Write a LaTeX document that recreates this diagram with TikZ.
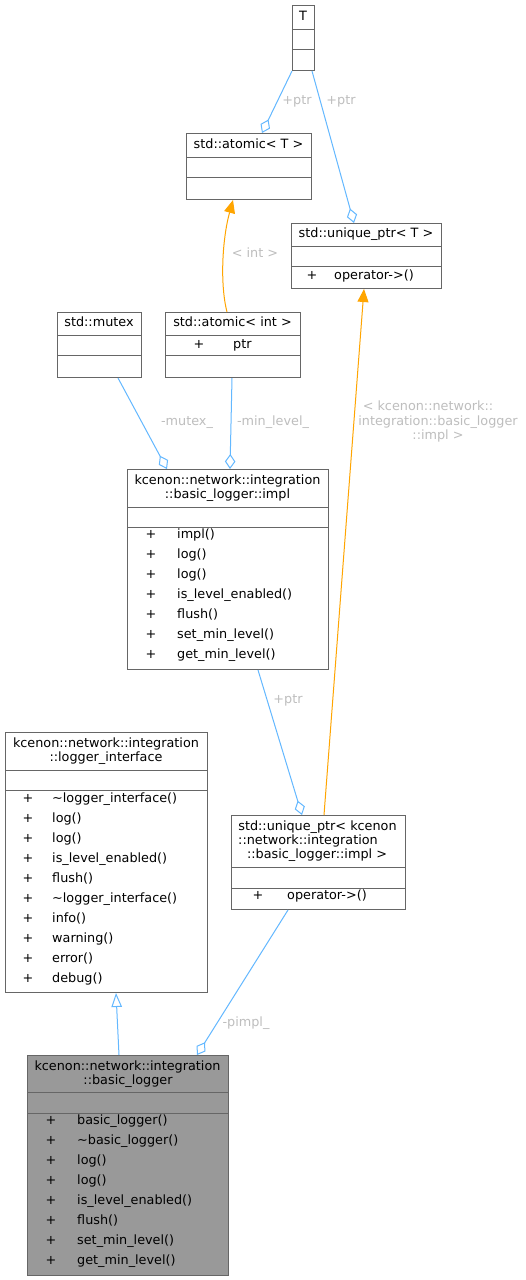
\documentclass[tikz,border=0pt]{standalone}
\usepackage{fontspec}
\setmainfont{DejaVu Sans}
\usetikzlibrary{arrows.meta,calc}
\definecolor{boxgray}{HTML}{666666}
\definecolor{mainfill}{HTML}{999999}
\definecolor{edgeblue}{HTML}{63B8FF}
\definecolor{edgeorange}{HTML}{FFA500}
\definecolor{lblgray}{HTML}{BEBEBE}
\begin{document}
\begin{tikzpicture}[x=1pt,y=-1pt,font=\fontsize{12.8}{15}\selectfont,
  cls/.style={draw=boxgray,line width=1pt,fill=white,inner sep=0pt,anchor=north west},
  div/.style={draw=boxgray,line width=1pt},
  txt/.style={inner sep=0pt,text height=9.3pt,text depth=2.7pt},
  lbl/.style={txt,text=lblgray},
  agg/.style={draw=edgeblue,line width=1pt,-{Diamond[open,length=15pt,width=10.5pt]}},
  inst/.style={draw=edgeorange,line width=1pt,-{Triangle[length=13pt,width=11pt]}},
  gen/.style={draw=edgeblue,line width=1pt,-{Triangle[open,length=14pt,width=10.5pt]}}]
 \path[fill=white,use as bounding box] (0,0) rectangle (525,1280);
 % T
 \node[cls,minimum width=22pt,minimum height=65pt] (T) at (292,5) {};
 \draw[div] (T.west |- 0,29) -- (T.east |- 0,29);
 \draw[div] (T.west |- 0,49) -- (T.east |- 0,49);
 \node[txt] (T-h) at (303,17) {T};
 % std::atomic< T >
 \node[cls,minimum width=125pt,minimum height=66pt] (atomT) at (186,133) {};
 \draw[div] (atomT.west |- 0,157) -- (atomT.east |- 0,157);
 \draw[div] (atomT.west |- 0,177) -- (atomT.east |- 0,177);
 \node[txt] (atomT-h) at (248.5,145) {std::atomic< T >};
 % std::unique_ptr< T >
 \node[cls,minimum width=150pt,minimum height=65pt] (uptrT) at (291,223) {};
 \draw[div] (uptrT.west |- 0,246) -- (uptrT.east |- 0,246);
 \draw[div] (uptrT.west |- 0,266) -- (uptrT.east |- 0,266);
 \node[txt] (uptrT-h) at (366,234.5) {std::unique\_ptr< T >};
 \node[txt] (uptrT-p1) at (312,276) {+};
 \node[txt,anchor=west] (uptrT-m1) at (334,276) {operator->()};
 % std::mutex
 \node[cls,minimum width=84pt,minimum height=65pt] (mutex) at (57,312) {};
 \draw[div] (mutex.west |- 0,335) -- (mutex.east |- 0,335);
 \draw[div] (mutex.west |- 0,355) -- (mutex.east |- 0,355);
 \node[txt] (mutex-h) at (99,323.5) {std::mutex};
 % std::atomic< int >
 \node[cls,minimum width=135pt,minimum height=65pt] (atomInt) at (165,312) {};
 \draw[div] (atomInt.west |- 0,335) -- (atomInt.east |- 0,335);
 \draw[div] (atomInt.west |- 0,355) -- (atomInt.east |- 0,355);
 \node[txt] (atomInt-h) at (232.5,323.5) {std::atomic< int >};
 \node[txt] (atomInt-p1) at (199,345) {+};
 \node[txt,anchor=west] (atomInt-a1) at (233,345) {ptr};
 % basic_logger::impl
 \node[cls,minimum width=201pt,minimum height=200pt] (impl) at (127,469) {};
 \draw[div] (impl.west |- 0,507) -- (impl.east |- 0,507);
 \draw[div] (impl.west |- 0,527) -- (impl.east |- 0,527);
 \node[txt] (impl-h1) at (227.5,481) {kcenon::network::integration};
 \node[txt] (impl-h2) at (227.5,495) {::basic\_logger::impl};
 \node[txt] (impl-p1) at (151,535) {+};
 \node[txt] (impl-p2) at (151,555) {+};
 \node[txt] (impl-p3) at (151,575) {+};
 \node[txt] (impl-p4) at (151,595) {+};
 \node[txt] (impl-p5) at (151,615) {+};
 \node[txt] (impl-p6) at (151,635) {+};
 \node[txt] (impl-p7) at (151,655) {+};
 \node[txt,anchor=west] (impl-m1) at (177,535) {impl()};
 \node[txt,anchor=west] (impl-m2) at (177,555) {log()};
 \node[txt,anchor=west] (impl-m3) at (177,575) {log()};
 \node[txt,anchor=west] (impl-m4) at (177,595) {is\_level\_enabled()};
 \node[txt,anchor=west] (impl-m5) at (177,615) {flush()};
 \node[txt,anchor=west] (impl-m6) at (177,635) {set\_min\_level()};
 \node[txt,anchor=west] (impl-m7) at (177,655) {get\_min\_level()};
 % logger_interface
 \node[cls,minimum width=202pt,minimum height=260pt] (iface) at (5,732) {};
 \draw[div] (iface.west |- 0,770) -- (iface.east |- 0,770);
 \draw[div] (iface.west |- 0,790) -- (iface.east |- 0,790);
 \node[txt] (iface-h1) at (106,744) {kcenon::network::integration};
 \node[txt] (iface-h2) at (106,758.5) {::logger\_interface};
 \node[txt] (iface-p1) at (28,799) {+};
 \node[txt] (iface-p2) at (28,819) {+};
 \node[txt] (iface-p3) at (28,839) {+};
 \node[txt] (iface-p4) at (28,859) {+};
 \node[txt] (iface-p5) at (28,879) {+};
 \node[txt] (iface-p6) at (28,899) {+};
 \node[txt] (iface-p7) at (28,919) {+};
 \node[txt] (iface-p8) at (28,939) {+};
 \node[txt] (iface-p9) at (28,959) {+};
 \node[txt] (iface-p10) at (28,979) {+};
 \node[txt,anchor=west] (iface-m1) at (52,799) {\textasciitilde logger\_interface()};
 \node[txt,anchor=west] (iface-m2) at (52,819) {log()};
 \node[txt,anchor=west] (iface-m3) at (52,839) {log()};
 \node[txt,anchor=west] (iface-m4) at (52,859) {is\_level\_enabled()};
 \node[txt,anchor=west] (iface-m5) at (52,879) {flush()};
 \node[txt,anchor=west] (iface-m6) at (52,899) {\textasciitilde logger\_interface()};
 \node[txt,anchor=west] (iface-m7) at (52,919) {info()};
 \node[txt,anchor=west] (iface-m8) at (52,939) {warning()};
 \node[txt,anchor=west] (iface-m9) at (52,959) {error()};
 \node[txt,anchor=west] (iface-m10) at (52,979) {debug()};
 % std::unique_ptr< impl >
 \node[cls,minimum width=174pt,minimum height=94pt] (uptrImpl) at (231,815) {};
 \draw[div] (uptrImpl.west |- 0,867) -- (uptrImpl.east |- 0,867);
 \draw[div] (uptrImpl.west |- 0,888) -- (uptrImpl.east |- 0,888);
 \node[txt] (uptrImpl-h1) at (317.5,827) {std::unique\_ptr< kcenon};
 \node[txt] (uptrImpl-h2) at (308,841) {::network::integration};
 \node[txt] (uptrImpl-h3) at (317,855.5) {::basic\_logger::impl >};
 \node[txt] (uptrImpl-p1) at (258,896) {+};
 \node[txt,anchor=west] (uptrImpl-m1) at (287,896) {operator->()};
 % basic_logger
 \node[cls,fill=mainfill,minimum width=201pt,minimum height=220pt] (basic) at (27,1055) {};
 \draw[div] (basic.west |- 0,1092) -- (basic.east |- 0,1092);
 \draw[div] (basic.west |- 0,1113) -- (basic.east |- 0,1113);
 \node[txt] (basic-h1) at (127.5,1067) {kcenon::network::integration};
 \node[txt] (basic-h2) at (128,1081) {::basic\_logger};
 \node[txt] (basic-p1) at (51,1121) {+};
 \node[txt] (basic-p2) at (51,1141) {+};
 \node[txt] (basic-p3) at (51,1161) {+};
 \node[txt] (basic-p4) at (51,1181) {+};
 \node[txt] (basic-p5) at (51,1201) {+};
 \node[txt] (basic-p6) at (51,1221) {+};
 \node[txt] (basic-p7) at (51,1241) {+};
 \node[txt] (basic-p8) at (51,1261) {+};
 \node[txt,anchor=west] (basic-m1) at (77,1121) {basic\_logger()};
 \node[txt,anchor=west] (basic-m2) at (77,1141) {\textasciitilde basic\_logger()};
 \node[txt,anchor=west] (basic-m3) at (77,1161) {log()};
 \node[txt,anchor=west] (basic-m4) at (77,1181) {log()};
 \node[txt,anchor=west] (basic-m5) at (77,1201) {is\_level\_enabled()};
 \node[txt,anchor=west] (basic-m6) at (77,1221) {flush()};
 \node[txt,anchor=west] (basic-m7) at (77,1241) {set\_min\_level()};
 \node[txt,anchor=west] (basic-m8) at (77,1261) {get\_min\_level()};
 % connectors
 \draw[agg] (T.south west) -- ($(atomT.north west)+(76,0)$);
 \draw[agg] ($(T.south west)+(20,0)$) -- ($(uptrT.north west)+(63,0)$);
 \draw[inst] ($(atomInt.north west)+(62,0)$) .. controls (220,285) and (222,240) .. ($(atomT.south west)+(47,0)$);
 \draw[agg] ($(mutex.south west)+(61,0)$) -- ($(impl.north west)+(40,0)$);
 \draw[agg] ($(atomInt.south west)+(67,0)$) -- ($(impl.north west)+(103,0)$);
 \draw[inst] ($(uptrImpl.north west)+(93,0)$) -- ($(uptrT.south west)+(73,0)$);
 \draw[agg] ($(impl.south west)+(131,0)$) -- ($(uptrImpl.north west)+(71,0)$);
 \draw[agg] ($(uptrImpl.south west)+(57,0)$) -- ($(basic.north west)+(170,0)$);
 \draw[gen] ($(basic.north west)+(92,0)$) -- ($(iface.south west)+(111,0)$);
 % labels
 \node[lbl] (l-ptr1) at (297,101) {+ptr};
 \node[lbl] (l-ptr2) at (341,101) {+ptr};
 \node[lbl] (l-int) at (255,254) {< int >};
 \node[lbl] (l-mutex) at (187,422) {-mutex\_};
 \node[lbl] (l-minlvl) at (273,422) {-min\_level\_};
 \node[lbl] (l-impl1) at (428,407) {< kcenon::network::};
 \node[lbl] (l-impl2) at (438,422) {integration::basic\_logger};
 \node[lbl] (l-impl3) at (438,436) {::impl >};
 \node[lbl] (l-ptr3) at (288,700) {+ptr};
 \node[lbl] (l-pimpl) at (246,1023) {-pimpl\_};
\end{tikzpicture}
\end{document}
